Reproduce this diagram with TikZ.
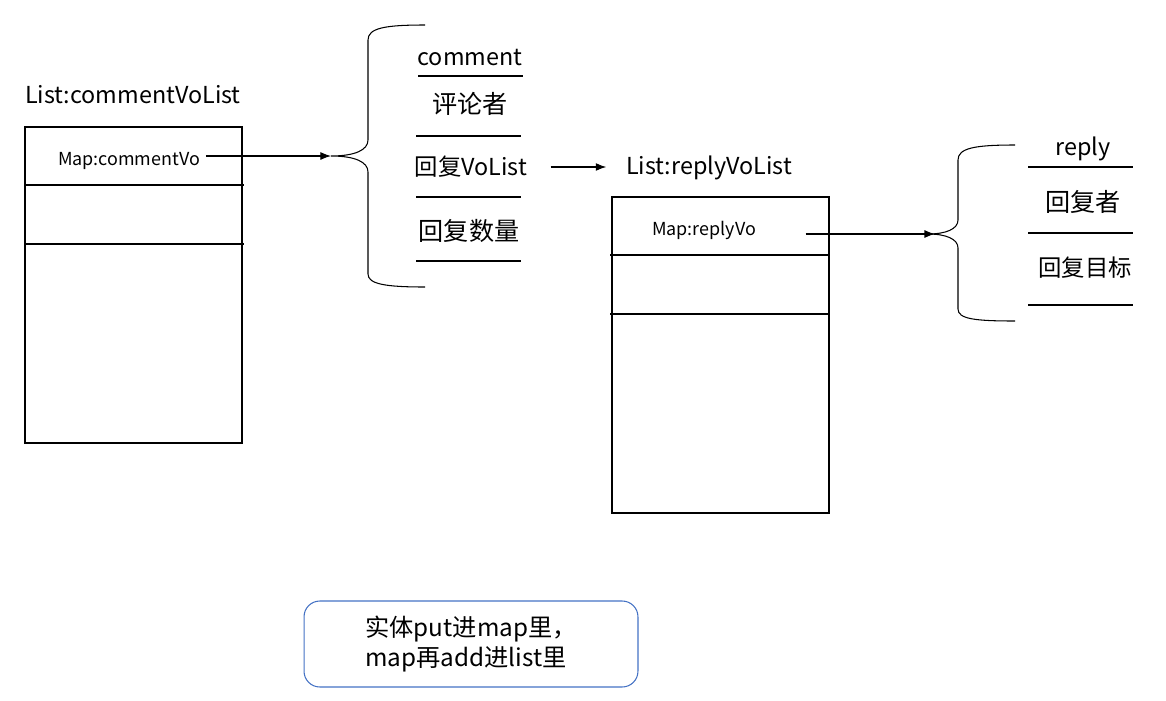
\documentclass[tikz,border=0pt]{standalone}
\usepackage{fontspec}
\setmainfont{Noto Sans CJK SC}
\usepackage{xcolor}
\usepackage{tikz}
\usetikzlibrary{positioning, arrows.meta, calc}

\definecolor{noteblue}{HTML}{4472C4}

\begin{document}
\begin{tikzpicture}[x=0.02cm, y=-0.02cm, line width=0.6pt,
        lbl/.style={inner sep=1pt, font=\fontsize{13.3}{15}\selectfont},
        cjk/.style={inner sep=1pt, font=\fontsize{14.3}{16}\selectfont},
        small/.style={inner sep=1pt, font=\fontsize{10.2}{12}\selectfont},
        arr/.style={-{Latex[length=6pt, width=4.5pt]}},
        note/.style={draw=noteblue, rounded corners=9pt, minimum width=6.68cm, minimum height=1.72cm,
            align=left, font=\fontsize{13.8}{17}\selectfont}]
        \useasboundingbox (0,0) rectangle (1166,700);

        % commentVoList
        \node[lbl] (clist) at (133,95) {List:commentVoList};
        \draw (25,127) rectangle (242,443);
        \draw (25,185) -- (244,185);
        \draw (25,244) -- (244,244);
        \node[small] (cmap) at (129,161) {Map:commentVo};

        % comment brace
        \coordinate (ctip) at (331,156);
        \draw (425,25) .. controls (385,25) and (368,28) .. (368,40) -- (368,140)
            .. controls (368,150) and (355,156) .. (ctip)
            .. controls (355,156) and (368,162) .. (368,172) -- (368,274)
            .. controls (368,284) and (385,287) .. (425,287);
        \draw[arr, shorten <=2pt] (cmap.east |- ctip) -- (ctip);

        % comment fields
        \node[lbl] (cname) at (470,58) {comment};
        \draw (418,76) -- (523,76);
        \node[cjk] (cuser) at (470,104) {评论者};
        \draw (416,136) -- (521,136);
        \node[lbl] (crep) at (471,167) {回复VoList};
        \draw (416,197) -- (521,197);
        \node[cjk] (cnum) at (469,231) {回复数量};
        \draw (416,261) -- (521,261);

        % replyVoList
        \node[lbl] (rlist) at (709,168) {List:replyVoList};
        \draw[arr, shorten <=12pt, shorten >=10pt] (crep.east) -- (crep.east -| rlist.west);
        \draw (612,197) rectangle (829,513);
        \draw (610,255) -- (829,255);
        \draw (610,314) -- (829,314);
        \node[small] (rmap) at (704,230) {Map:replyVo};

        % reply brace
        \coordinate (rtip) at (928,234);
        \draw (1015,145) .. controls (975,145) and (958,148) .. (958,160) -- (958,220)
            .. controls (958,229) and (946,234) .. (rtip)
            .. controls (946,234) and (958,239) .. (958,248) -- (958,309)
            .. controls (958,319) and (975,321) .. (1015,321);
        \draw[arr, shorten <=27pt] (rmap.east |- rtip) -- ([xshift=4]rtip);

        % reply fields
        \node[lbl] (rname) at (1083,149) {reply};
        \draw (1028,167) -- (1133,167);
        \node[cjk] (ruser) at (1083,202) {回复者};
        \draw (1028,233) -- (1133,233);
        \node[lbl] (rtarget) at (1085,268) {回复目标};
        \draw (1028,305) -- (1133,305);

        % note
        \node[note] (note) at (471,644) {实体put进map里，\\map再add进list里};
\end{tikzpicture}
\end{document}
